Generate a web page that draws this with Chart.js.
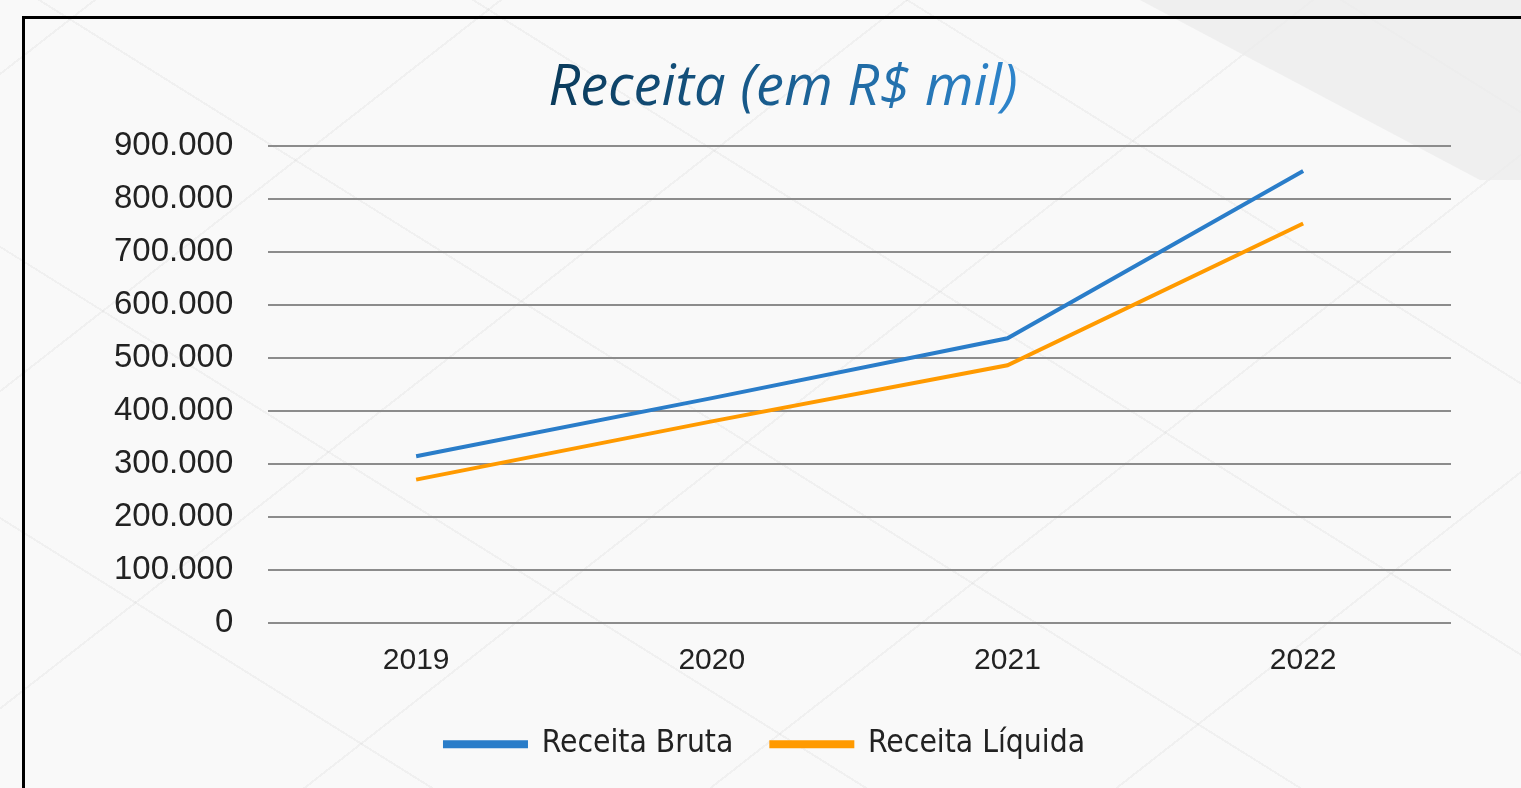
<!DOCTYPE html>
<html lang="pt-BR">
<head>
<meta charset="utf-8">
<title>Receita (em R$ mil)</title>
<script src="https://cdn.jsdelivr.net/npm/chart.js@4.4.1/dist/chart.umd.min.js"></script>
<style>
  html, body { margin: 0; padding: 0; }
  body {
    width: 1521px; height: 788px; overflow: hidden; position: relative;
    background:
      repeating-linear-gradient(32deg, transparent 0 228px, rgba(0,0,0,0.035) 228px 230px),
      repeating-linear-gradient(-38deg, transparent 0 248px, rgba(0,0,0,0.035) 248px 250px),
      #f9f9f9;
  }
  .shade {
    position: absolute; left: 0; top: 0; width: 1521px; height: 788px;
    background: #ececec;
    clip-path: polygon(1140px 0, 1521px 0, 1521px 180px, 1480px 180px);
    opacity: 0.8;
  }
  .box {
    position: absolute; left: 22px; top: 16px; width: 1520px; height: 800px;
    border-top: 3px solid #000; border-left: 3px solid #000;
  }
  #wrap { position: absolute; left: 25px; top: 19px; width: 1496px; height: 769px; }
</style>
</head>
<body>
<div class="shade"></div>
<div class="box"></div>
<div id="wrap"><canvas id="receitaChart"></canvas></div>
<script>
// Dados (R$ mil)
const anos = ['2019', '2020', '2021', '2022'];
const receitaBruta = [314000, 424000, 537000, 853000];
const receitaLiquida = [270000, 380000, 486000, 754000];
const yTicks = [0, 100000, 200000, 300000, 400000, 500000, 600000, 700000, 800000, 900000];

const TITULO = 'Receita (em R$ mil)';
const TITULO_FONT = "italic 500 56px 'Open Sans', sans-serif";
const AZUL = '#2a7dc9';
const LARANJA = '#ff9a00';

function formatBR(v) {
  return String(v).replace(/\B(?=(\d{3})+(?!\d))/g, '.');
}

// título com gradiente, desenhado no lugar reservado pelo title do Chart.js
const tituloGradiente = {
  id: 'tituloGradiente',
  afterDraw(chart) {
    const tb = chart.titleBlock;
    if (!tb) return;
    const c = chart.ctx;
    c.save();
    c.font = TITULO_FONT;
    const cx = tb.left + tb.width / 2 + 18;
    const w = c.measureText(TITULO).width;
    const g = c.createLinearGradient(cx - w / 2, 0, cx + w / 2, 0);
    g.addColorStop(0, '#0a3a5a');
    g.addColorStop(0.5, '#1a5f92');
    g.addColorStop(1, '#2e85cc');
    c.fillStyle = g;
    c.textAlign = 'center';
    c.textBaseline = 'middle';
    c.fillText(TITULO, cx, tb.top + (tb.height - 24) / 2);
    c.restore();
  }
};

const canvas = document.getElementById('receitaChart');

new Chart(canvas, {
  type: 'line',
  data: {
    labels: anos,
    datasets: [
      {
        label: 'Receita Bruta',
        data: receitaBruta,
        borderColor: AZUL,
        backgroundColor: AZUL,
        borderWidth: 4,
        pointRadius: 0,
        tension: 0
      },
      {
        label: 'Receita Líquida',
        data: receitaLiquida,
        borderColor: LARANJA,
        backgroundColor: LARANJA,
        borderWidth: 4,
        pointRadius: 0,
        tension: 0
      }
    ]
  },
  plugins: [tituloGradiente],
  options: {
    responsive: true,
    maintainAspectRatio: false,
    animation: false,
    layout: { padding: { left: 54, right: 70, top: 36, bottom: 18 } },
    plugins: {
      title: {
        display: true,
        text: TITULO,
        color: 'rgba(0,0,0,0)',
        font: { family: "'Open Sans', sans-serif", size: 56, style: 'italic', weight: '500' },
        padding: { top: 0, bottom: 24 }
      },
      legend: {
        position: 'bottom',
        labels: {
          color: '#222',
          font: { family: "'DejaVu Sans Condensed', 'DejaVu Sans', sans-serif", size: 31.5 },
          boxWidth: 81,
          boxHeight: 4,
          padding: 38
        }
      },
      tooltip: { enabled: false }
    },
    scales: {
      x: {
        offset: true,
        grid: { display: false },
        border: { display: false },
        ticks: {
          color: '#222',
          padding: 12,
          font: { family: "'Liberation Sans', Arial, sans-serif", size: 30 }
        }
      },
      y: {
        min: 0,
        max: 900000,
        afterBuildTicks: axis => { axis.ticks = yTicks.map(v => ({ value: v })); },
        grid: { color: '#8c8c8c', lineWidth: 2, drawTicks: false },
        border: { display: false },
        ticks: {
          color: '#222',
          padding: 35,
          font: { family: "'Liberation Sans', Arial, sans-serif", size: 33 },
          callback: v => formatBR(v)
        }
      }
    }
  }
});
</script>
</body>
</html>
